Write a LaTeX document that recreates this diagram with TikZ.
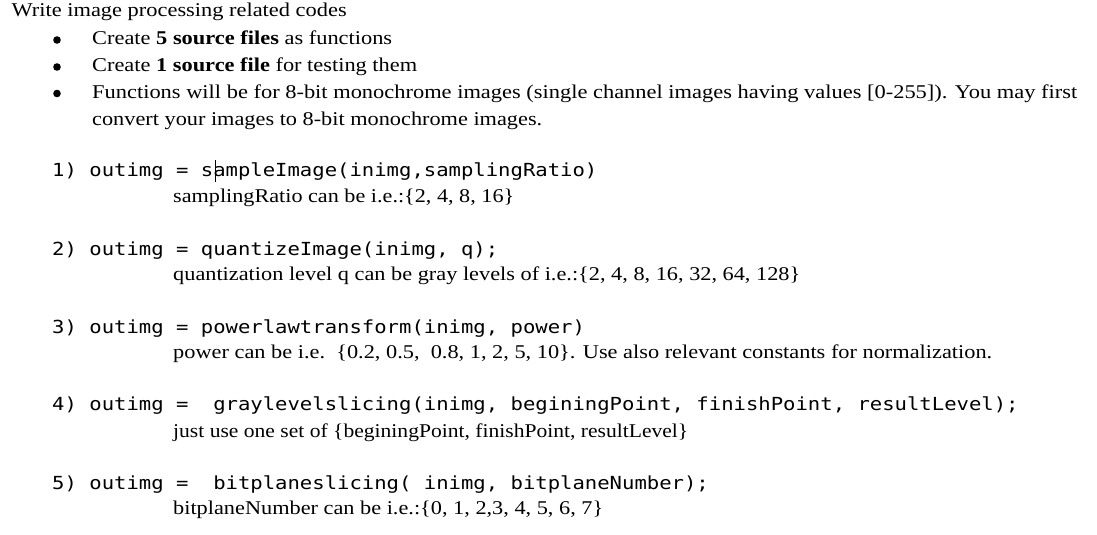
\documentclass[tikz,border=0pt]{standalone}
\usepackage{fontspec}
\usepackage{graphicx}
\setmainfont{Liberation Serif}
\newfontfamily\codefont{DejaVu Sans Mono}
\newcommand\fitline[2]{\resizebox{#1pt}{\height}{#2}}
\newcommand\codeline[1]{\scalebox{1.1434}[1]{#1}}
\begin{document}
\begin{tikzpicture}[x=1pt,y=-1pt,
  txt/.style={anchor=base west,inner sep=0pt,font=\fontsize{19.5}{22}\selectfont},
  code/.style={anchor=base west,inner sep=0pt,font=\codefont\fontsize{18}{21}\selectfont},
  bul/.style={circle,fill=black,inner sep=0pt,minimum size=7.6pt}]
\fill[white] (0,0) rectangle (1097,535);
\useasboundingbox (0,0) rectangle (1097,535);
% heading
\node[txt] (head) at (11.5,17) {\fitline{335}{Write image processing related codes}};
% bullets
\node[bul] (b1) at (57,40) {};
\node[bul] (b2) at (57,67) {};
\node[bul] (b3) at (57,93.5) {};
\node[txt] (t1) at (92,45) {\fitline{300}{Create \textbf{5 source files} as functions}};
\node[txt] (t2) at (92,71.7) {\fitline{325}{Create \textbf{1 source file} for testing them}};
\node[txt] (t3) at (92,98.3) {\fitline{985}{Functions will be for 8-bit monochrome images (single channel images having values [0-255]). You may first}};
\node[txt] (t4) at (92,125) {\fitline{450}{convert your images to 8-bit monochrome images.}};
% 1
\node[code] (c1) at (52,176.5) {\codeline{1) outimg = sampleImage(inimg,samplingRatio)}};
\node[txt] (s1) at (173,202.5) {\fitline{341}{samplingRatio can be i.e.:\{2, 4, 8, 16\}}};
\coordinate (cura) at (215.5,160);
\coordinate (curb) at (215.5,182);
\draw[line width=1pt] (cura) -- (curb);
% 2
\node[code] (c2) at (52,255.5) {\codeline{2) outimg = quantizeImage(inimg, q);}};
\node[txt] (s2) at (173,280.5) {\fitline{627}{quantization level q can be gray levels of i.e.:\{2, 4, 8, 16, 32, 64, 128\}}};
% 3
\node[code] (c3) at (52,333) {\codeline{3) outimg = powerlawtransform(inimg, power)}};
\node[txt] (s3) at (173,358) {\fitline{819}{power can be i.e.\ \ \{0.2, 0.5,\ \ 0.8, 1, 2, 5, 10\}. Use also relevant constants for normalization.}};
% 4
\node[code] (c4) at (52,410.5) {\codeline{4) outimg =\ \ graylevelslicing(inimg, beginingPoint, finishPoint, resultLevel);}};
\node[txt] (s4) at (173,437) {\fitline{515}{just use one set of \{beginingPoint, finishPoint, resultLevel\}}};
% 5
\node[code] (c5) at (52,489) {\codeline{5) outimg =\ \ bitplaneslicing( inimg, bitplaneNumber);}};
\node[txt] (s5) at (173,514.5) {\fitline{430}{bitplaneNumber can be i.e.:\{0, 1, 2,3, 4, 5, 6, 7\}}};
\end{tikzpicture}
\end{document}
